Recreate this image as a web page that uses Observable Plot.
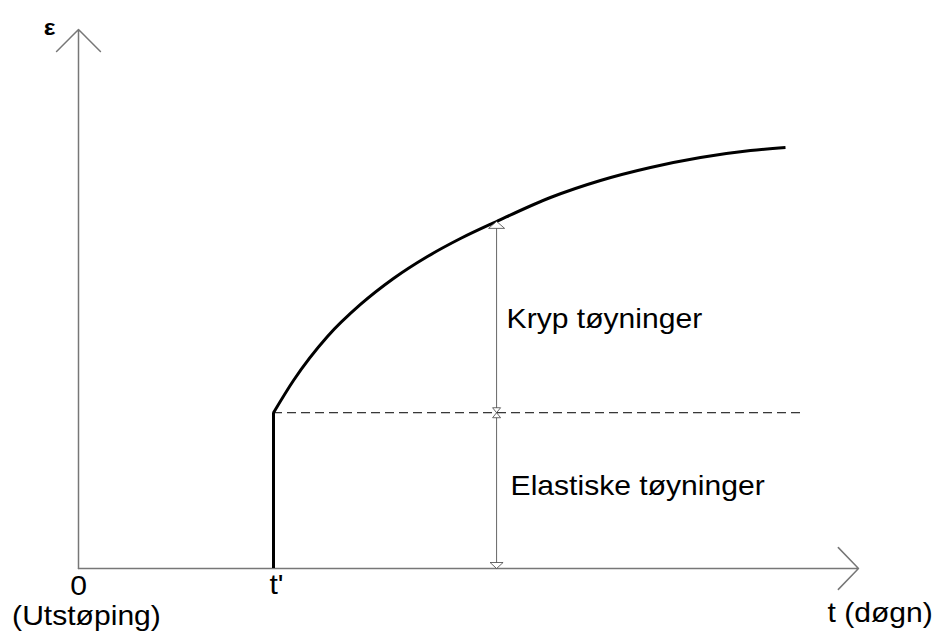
<!DOCTYPE html>
<html>
<head>
<meta charset="utf-8">
<script src="https://cdn.jsdelivr.net/npm/d3@7"></script>
<script src="https://cdn.jsdelivr.net/npm/@observablehq/plot@0.6"></script>
<style>
  html, body { margin: 0; padding: 0; background: #fff; }
  #chart svg { display: block; overflow: visible; }
</style>
</head>
<body>
<div id="chart"></div>
<script>
// ---- data (time t in arbitrary day units, strain ε in arbitrary units) ----
const axisEnd = [100, 100];            // [t max, ε max] ends of the axis arrows
const tPrime = 25;                     // loading time t'
const elasticStrain = 28.9;            // instantaneous (elastic) strain
const curveT = [25, 27.56, 31.92, 36.15, 40.38, 44.74, 48.97, 53.59, 60.51, 66.92, 73.33, 79.74, 86.15, 90.64];
const curveE = [28.9, 34.88, 43.04, 48.98, 53.80, 57.88, 61.22, 64.38, 68.83, 71.99, 74.40, 76.25, 77.55, 78.11];
const dashEnd = 92.6;                  // end of the dashed elastic-level line
const dimT = 53.6;                     // time where the dimension arrows sit
const dimTopE = 64.4;                  // creep curve value at dimT
const yLabel = ["ε"];
const xLabel = ["t (døgn)"];
const originLabels = ["0", "(Utstøping)"];
const tPrimeLabel = ["t'"];
const creepLabel = ["Kryp tøyninger"];
const elasticLabel = ["Elastiske tøyninger"];

const curve = curveT.map((t, i) => ({t, e: curveE[i]}));

// hollow triangle arrowheads (tip at the dot position)
const triUp = (w, h) => ({draw(ctx) { ctx.moveTo(0, 0); ctx.lineTo(-w / 2, h); ctx.lineTo(w / 2, h); ctx.closePath(); }});
const triDown = (w, h) => ({draw(ctx) { ctx.moveTo(0, 0); ctx.lineTo(-w / 2, -h); ctx.lineTo(w / 2, -h); ctx.closePath(); }});

const font = "'Liberation Sans', Arial, Helvetica, sans-serif";
const fs = 28;
const creepMid = (elasticStrain + dimTopE) / 2;
const elasticMid = elasticStrain / 2;

const chart = Plot.plot({
  width: 935,
  height: 634,
  marginLeft: 78,
  marginRight: 77,
  marginTop: 29,
  marginBottom: 66,
  style: {background: "#fff", fontFamily: font},
  x: {domain: [0, axisEnd[0]], axis: null},
  y: {domain: [0, axisEnd[1]], axis: null},
  marks: [
    // axes with open arrowheads
    Plot.arrow([0], {x1: 0, y1: 0, x2: axisEnd[0], y2: 0, stroke: "#777", strokeWidth: 1.5, headLength: 29, headAngle: 92}),
    Plot.arrow([0], {x1: 0, y1: 0, x2: 0, y2: axisEnd[1], stroke: "#777", strokeWidth: 1.5, headLength: 31, headAngle: 90}),
    // dimension line
    Plot.ruleX([dimT], {y1: 0, y2: dimTopE, stroke: "#666", strokeWidth: 1}),
    // dashed elastic level
    Plot.ruleY([elasticStrain], {x1: tPrime, x2: dashEnd, stroke: "#000", strokeWidth: 1, strokeDasharray: "9,5"}),
    // elastic jump at t'
    Plot.ruleX([tPrime], {y1: 0, y2: elasticStrain, stroke: "#000", strokeWidth: 3}),
    // creep curve
    Plot.line(curve, {x: "t", y: "e", curve: "monotone-x", stroke: "#000", strokeWidth: 3, strokeLinecap: "butt"}),
    // dimension arrowheads
    Plot.dot([dimTopE], {x: dimT, y: d => d, symbol: triUp(16, 7), r: 5, fill: "#fff", stroke: "#444", strokeWidth: 0.8}),
    Plot.dot([elasticStrain], {x: dimT, y: d => d, symbol: triDown(8, 5), r: 5, fill: "#fff", stroke: "#444", strokeWidth: 0.8}),
    Plot.dot([elasticStrain], {x: dimT, y: d => d, symbol: triUp(8, 5), r: 5, fill: "#fff", stroke: "#444", strokeWidth: 0.8}),
    Plot.dot([0], {x: dimT, y: d => d, symbol: triDown(13, 6), r: 5, fill: "#fff", stroke: "#444", strokeWidth: 0.8}),
    // labels
    Plot.text(yLabel, {x: 0, y: axisEnd[1], text: d => d, dx: -29, dy: -2, fontSize: 23, fontWeight: "bold", fill: "#000"}),
    Plot.text([originLabels[0]], {x: 0, y: 0, text: d => d, dx: 0, dy: 18, fontSize: fs, fill: "#000"}),
    Plot.text([originLabels[1]], {x: 0, y: 0, text: d => d, dx: 8, dy: 48, fontSize: fs, fill: "#000"}),
    Plot.text(tPrimeLabel, {x: tPrime, y: 0, text: d => d, dx: 3, dy: 17, fontSize: fs, fill: "#000"}),
    Plot.text(xLabel, {x: axisEnd[0], y: 0, text: d => d, textAnchor: "start", dx: -31, dy: 45, fontSize: fs, fill: "#000"}),
    Plot.text(creepLabel, {x: dimT, y: creepMid, text: d => d, textAnchor: "start", dx: 10, dy: 2, fontSize: fs, fill: "#000"}),
    Plot.text(elasticLabel, {x: dimT, y: elasticMid, text: d => d, textAnchor: "start", dx: 14, dy: -5, fontSize: fs, fill: "#000"})
  ]
});
// the reference lettering is slightly wider than the font: stretch text horizontally
chart.querySelectorAll("text").forEach(t => {
  const tr = t.getAttribute("transform");
  if (tr) t.setAttribute("transform", tr + " scale(1.075,1)");
  else {
    const x = +t.getAttribute("x") || 0, y = +t.getAttribute("y") || 0;
    t.removeAttribute("x"); t.removeAttribute("y");
    t.setAttribute("transform", `translate(${x},${y}) scale(1.075,1)`);
  }
});
document.getElementById("chart").appendChild(chart);
</script>
</body>
</html>
